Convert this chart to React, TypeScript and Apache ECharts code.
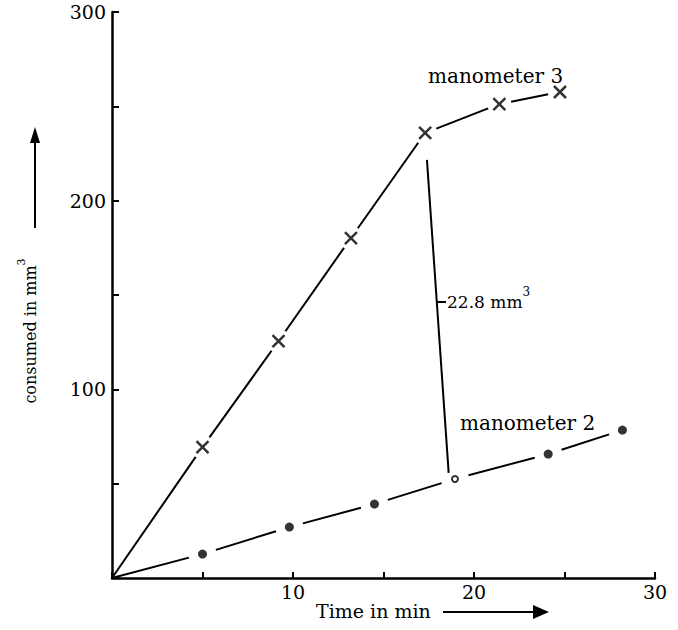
import React, { useEffect, useRef } from "react";
import * as echarts from "echarts";

// ---- data ----
const origin: number[] = [0, 0];
const manometer3Time = [5.0, 9.2, 13.2, 17.3, 21.4, 24.75];
const manometer3Volume = [69.4, 125.6, 180.2, 235.9, 251.2, 257.6];
const manometer2Time = [5.0, 9.8, 14.5, 18.95, 24.1, 28.2];
const manometer2Volume = [12.7, 27.0, 39.2, 52.5, 65.7, 78.4];
const differenceTime = [17.4, 18.6];
const differenceVolume = [221.6, 55.7];
const xTickLabels = [10, 20, 30];
const yTickLabels = [100, 200, 300];

const FONT = "DejaVu Serif";
const INK = "#000";

const pairs = (xs: number[], ys: number[]) => xs.map((x, i) => [x, ys[i]]);

// consecutive segments [x0, y0, x1, y1] starting from the origin
const segmentsFrom = (pts: number[][]) => {
  const all = [origin, ...pts];
  const out: number[][] = [];
  for (let i = 1; i < all.length; i++) out.push([all[i - 1][0], all[i - 1][1], all[i][0], all[i][1]]);
  return out;
};

export default function App() {
  const ref = useRef<HTMLDivElement>(null);

  useEffect(() => {
    if (!ref.current) return;
    const chart = echarts.init(ref.current, null, { renderer: "svg" });

    const m3 = pairs(manometer3Time, manometer3Volume);
    const m2 = pairs(manometer2Time, manometer2Volume);
    const diff = pairs(differenceTime, differenceVolume);

    const gapSeries = (name: string, pts: number[][], gap: number) => ({
      name,
      type: "custom",
      data: segmentsFrom(pts),
      encode: { x: [0, 2], y: [1, 3] },
      silent: true,
      z: 2,
      renderItem: (params: any, api: any) => {
        const a = api.coord([api.value(0), api.value(1)]);
        const b = api.coord([api.value(2), api.value(3)]);
        const dx = b[0] - a[0];
        const dy = b[1] - a[1];
        const len = Math.sqrt(dx * dx + dy * dy) || 1;
        const ux = dx / len;
        const uy = dy / len;
        const startGap = params.dataIndex === 0 ? 0 : gap;
        return {
          type: "line",
          shape: {
            x1: a[0] + ux * startGap,
            y1: a[1] + uy * startGap,
            x2: b[0] - ux * gap,
            y2: b[1] - uy * gap,
          },
          style: { stroke: INK, lineWidth: 2, fill: null },
        };
      },
    });

    const option: any = {
      animation: false,
      backgroundColor: "#fff",
      grid: { left: 112, top: 12, width: 543, height: 566 },
      xAxis: {
        type: "value",
        min: 0,
        max: 30,
        interval: 5,
        axisLine: { show: true, lineStyle: { color: INK, width: 2.5 } },
        axisTick: { show: true, inside: true, length: 6, lineStyle: { color: INK, width: 2 } },
        splitLine: { show: false },
        axisLabel: {
          margin: 4,
          color: INK,
          fontFamily: FONT,
          fontSize: 19,
          formatter: (v: number) => (xTickLabels.includes(v) ? String(v) : ""),
        },
      },
      yAxis: {
        type: "value",
        min: 0,
        max: 300,
        interval: 50,
        axisLine: { show: true, lineStyle: { color: INK, width: 2.5 } },
        axisTick: { show: true, inside: true, length: 7, lineStyle: { color: INK, width: 2 } },
        splitLine: { show: false },
        axisLabel: {
          margin: 6,
          color: INK,
          fontFamily: FONT,
          fontSize: 19,
          formatter: (v: number) => (yTickLabels.includes(v) ? String(v) : ""),
        },
      },
      series: [
        gapSeries("manometer 3", m3, 12),
        gapSeries("manometer 2", m2, 14),
        {
          name: "difference",
          type: "line",
          data: diff,
          showSymbol: false,
          symbol: "none",
          lineStyle: { color: INK, width: 2 },
          z: 4,
          silent: true,
        },
        {
          name: "marker3",
          type: "scatter",
          data: m3,
          symbol: "path://M0,0L10,10M10,0L0,10",
          symbolSize: 12,
          itemStyle: { color: INK, borderColor: INK, borderWidth: 2.5 },
          z: 5,
          silent: true,
        },
        {
          name: "marker2",
          type: "scatter",
          data: m2.map((p, i) =>
            i === 3
              ? { value: p, symbol: "circle", symbolSize: 6, itemStyle: { color: "#fff", borderColor: INK, borderWidth: 2 } }
              : { value: p }
          ),
          symbol: "circle",
          symbolSize: 9,
          itemStyle: { color: INK },
          z: 5,
          silent: true,
        },
      ],
      graphic: [
        {
          type: "text",
          x: 428,
          y: 76,
          style: { text: "manometer 3", fontFamily: FONT, fontSize: 20, fill: INK, align: "left", verticalAlign: "middle" },
        },
        {
          type: "text",
          x: 460,
          y: 423,
          style: { text: "manometer 2", fontFamily: FONT, fontSize: 20, fill: INK, align: "left", verticalAlign: "middle" },
        },
        {
          type: "line",
          shape: { x1: 437, y1: 302, x2: 446, y2: 302 },
          style: { stroke: INK, lineWidth: 2 },
        },
        {
          type: "text",
          x: 447,
          y: 298,
          style: {
            text: "{n|22.8 mm}{s|3}",
            align: "left",
            verticalAlign: "middle",
            rich: {
              n: { fontFamily: FONT, fontSize: 17, fill: INK, lineHeight: 24, verticalAlign: "bottom" },
              s: { fontFamily: FONT, fontSize: 12, fill: INK, lineHeight: 24, verticalAlign: "top" },
            },
          },
        },
        {
          type: "text",
          x: 27,
          y: 331,
          rotation: Math.PI / 2,
          style: {
            text: "{n|consumed in mm}{s|3}",
            align: "center",
            verticalAlign: "middle",
            rich: {
              n: { fontFamily: FONT, fontSize: 16, fill: INK, lineHeight: 22, verticalAlign: "bottom" },
              s: { fontFamily: FONT, fontSize: 11, fill: INK, lineHeight: 22, verticalAlign: "top" },
            },
          },
        },
        {
          type: "line",
          shape: { x1: 35, y1: 228, x2: 35, y2: 140 },
          style: { stroke: INK, lineWidth: 2 },
        },
        {
          type: "polygon",
          shape: { points: [[35, 127], [30, 143], [40, 143]] },
          style: { fill: INK },
        },
        {
          type: "text",
          x: 316,
          y: 611,
          style: { text: "Time in min", fontFamily: FONT, fontSize: 19, fill: INK, align: "left", verticalAlign: "middle" },
        },
        {
          type: "line",
          shape: { x1: 443, y1: 612, x2: 536, y2: 612 },
          style: { stroke: INK, lineWidth: 2 },
        },
        {
          type: "polygon",
          shape: { points: [[549, 612], [533, 605], [533, 619]] },
          style: { fill: INK },
        },
      ],
    };

    chart.setOption(option);
    return () => chart.dispose();
  }, []);

  return (
    <div
      ref={ref}
      style={{ position: "fixed", left: 0, top: 0, width: 678, height: 630, background: "#fff" }}
    />
  );
}
